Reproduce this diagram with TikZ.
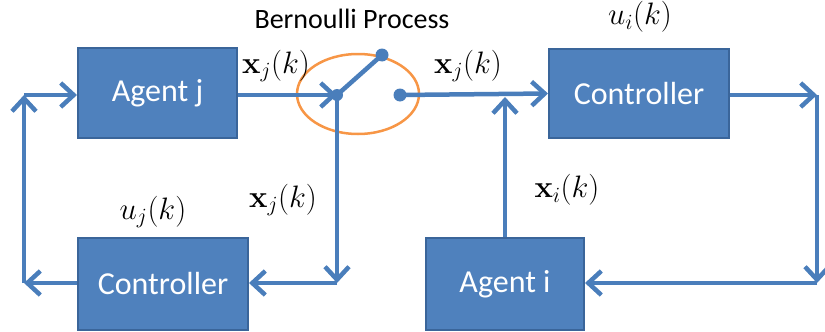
\RequirePackage{fix-cm}
\documentclass[tikz,border=0pt]{standalone}
\usepackage[no-math]{fontspec}
\setmainfont{Carlito}
\usepackage{amsmath}
\usetikzlibrary{arrows.meta}
\definecolor{boxblue}{HTML}{4F81BD}
\definecolor{boxedge}{HTML}{3A659A}
\definecolor{linkblue}{HTML}{4A7EBB}
\definecolor{sworange}{HTML}{F79646}
\begin{document}
\begin{tikzpicture}[x=1pt,y=-1pt,
  block/.style={draw=boxedge,line width=2pt,fill=boxblue,text=white,
    font=\fontsize{32}{38}\selectfont,inner sep=0pt},
  link/.style={draw=linkblue,line width=4.5pt,
    -{Straight Barb[length=13pt,width=24pt,line width=4.5pt]}},
  plain/.style={draw=linkblue,line width=4.5pt},
  lab/.style={font=\fontsize{31}{37}\selectfont,inner sep=0pt},
  dot/.style={circle,fill=linkblue,inner sep=0pt,minimum size=#1}]
\useasboundingbox (0,0) rectangle (825,332);

% blocks
\node[block,minimum width=159pt,minimum height=90pt] (aj) at (157.5,93) {Agent j};
\node[block,minimum width=180pt,minimum height=89pt] (ci) at (639,93.5) {Controller};
\node[block,minimum width=170pt,minimum height=92pt] (cj) at (163,284) {Controller};
\node[block,minimum width=158pt,minimum height=92pt] (ai) at (505,284) {Agent i};

% switch
\draw[sworange,line width=2.5pt] (358,94) ellipse [x radius=61, y radius=40];
\node[dot=12pt] (piv) at (337,95) {};
\node[dot=13pt] (arm) at (382,55) {};
\node[dot=13pt] (con) at (400,95) {};
\draw[plain] (piv.center) -- (arm.center);

% routing points
\coordinate (lb) at (24,283);
\coordinate (lt) at (24,95);
\coordinate (pb) at (337,283);
\coordinate (rt) at (817,95);
\coordinate (rb) at (817,283);
\coordinate (ij) at (505,97);

% connectors
\draw[link] (aj.east |- lt) -- (piv.center);
\draw[link] (con.center) -- (ci.west);
\draw[link] (piv.center) -- (pb);
\draw[link] (pb) -- (cj.east |- pb);
\draw[link] (cj.west |- lb) -- (lb);
\draw[link] (lb) -- (lt);
\draw[link] (lt) -- (aj.west |- lt);
\draw[link] (ai.north) -- (ij);
\draw[link] (ci.east |- rt) -- (rt);
\draw[link] (rt) -- (rb);
\draw[link] (rb) -- (ai.east |- rb);

% labels
\node[font=\fontsize{28}{34}\selectfont,inner sep=0pt] (bp) at (352,19) {Bernoulli Process};
\node[lab] (l1) at (276,66) {$\mathbf{x}_j(k)$};
\node[lab] (l2) at (468,66) {$\mathbf{x}_j(k)$};
\node[lab] (l3) at (640,17) {$u_i(k)$};
\node[lab] (l4) at (153,212) {$u_j(k)$};
\node[lab] (l5) at (283,200) {$\mathbf{x}_j(k)$};
\node[lab] (l6) at (567,190) {$\mathbf{x}_i(k)$};
\end{tikzpicture}
\end{document}
